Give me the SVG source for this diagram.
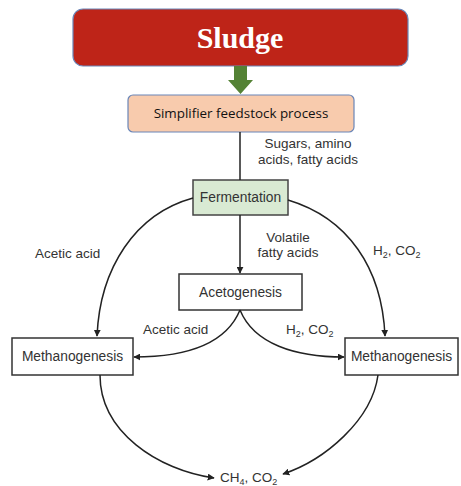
<svg xmlns="http://www.w3.org/2000/svg" width="461" height="486" viewBox="0 0 461 486">
  <style>
    .lbl { font-family: "Liberation Sans", Arial, sans-serif; font-size: 13.5px; fill: #333; }
    .box { fill: #fff; stroke: #333; stroke-width: 1.5; }
    .node-text { font-family: "Liberation Sans", Arial, sans-serif; font-size: 13.8px; fill: #333; text-anchor: middle; }
    .conn { fill: none; stroke: #222; stroke-width: 1.5; marker-end: url(#arrow); }
    .plain { fill: none; stroke: #222; stroke-width: 1.5; }
    .sub { font-size: 9px; }
  </style>
  <defs>
    <marker id="arrow" viewBox="0 0 10 10" refX="9" refY="5" markerWidth="7" markerHeight="7" markerUnits="userSpaceOnUse" orient="auto">
      <path d="M0,0 L10,5 L0,10 z" fill="#222"/>
    </marker>
  </defs>

  <rect width="461" height="486" fill="#fff"/>

  <!-- top feed -->
  <g id="sludge">
    <rect x="73" y="9" width="335" height="57" rx="10" fill="#BE2418" stroke="#6A86B8" stroke-width="1.2"/>
    <text x="240" y="48" text-anchor="middle" font-family="Liberation Serif, 'Times New Roman', serif" font-weight="bold" font-size="30" fill="#fff">Sludge</text>
  </g>

  <g id="feed-arrow">
    <path d="M234,66 H247 V80 H253 L240.5,94 L228,80 H234 Z" fill="#548235"/>
  </g>

  <g id="simplifier">
    <rect x="128" y="95" width="226" height="37" rx="5" fill="#F8CBAD" stroke="#6A86B8" stroke-width="1.2"/>
    <text x="241" y="118" text-anchor="middle" font-family="'Open Sans', 'Liberation Sans', sans-serif" font-size="13.4" fill="#111">Simplifier feedstock process</text>
  </g>

  <g id="fermentation">
    <rect x="193" y="180" width="95" height="35" fill="#D9EAD3" stroke="#444" stroke-width="1.5"/>
    <text class="node-text" x="240.5" y="202" fill="#4a4a4a">Fermentation</text>
  </g>

  <g id="acetogenesis">
    <rect class="box" x="179" y="274" width="123" height="36"/>
    <text class="node-text" x="240.5" y="297">Acetogenesis</text>
  </g>

  <g id="methanogenesis-left">
    <rect class="box" x="12" y="338" width="121" height="37"/>
    <text class="node-text" x="72.5" y="361">Methanogenesis</text>
  </g>

  <g id="methanogenesis-right">
    <rect class="box" x="345" y="338" width="113" height="37"/>
    <text class="node-text" x="401.5" y="361">Methanogenesis</text>
  </g>

  <g id="connectors">
    <path class="plain" d="M240,132 V180"/>
    <path class="conn" d="M240,215 V273"/>
    <path class="conn" d="M193,198 C135,214 100,268 97,336"/>
    <path class="conn" d="M288,200 C348,218 382,268 385,336"/>
    <path class="conn" d="M240,310 C226,344 185,357 134,357"/>
    <path class="conn" d="M240,310 C254,344 295,357 344,357"/>
    <path class="conn" d="M100,375 C100,432 158,470 214,478"/>
    <path class="conn" d="M378,375 C372,420 325,460 283,474"/>
  </g>

  <g id="labels">
    <text class="lbl" x="308" y="148" text-anchor="middle">Sugars, amino</text>
    <text class="lbl" x="308" y="164" text-anchor="middle">acids, fatty acids</text>
    <text class="lbl" x="288" y="242" text-anchor="middle">Volatile</text>
    <text class="lbl" x="288" y="257" text-anchor="middle">fatty acids</text>
    <text class="lbl" x="35" y="258">Acetic acid</text>
    <text class="lbl" x="373" y="255">H<tspan class="sub" dy="3">2</tspan><tspan dy="-3">, CO</tspan><tspan class="sub" dy="3">2</tspan></text>
    <text class="lbl" x="143" y="334">Acetic acid</text>
    <text class="lbl" x="286" y="334">H<tspan class="sub" dy="3">2</tspan><tspan dy="-3">, CO</tspan><tspan class="sub" dy="3">2</tspan></text>
    <text class="lbl" x="220" y="482">CH<tspan class="sub" dy="3">4</tspan><tspan dy="-3">, CO</tspan><tspan class="sub" dy="3">2</tspan></text>
  </g>
</svg>
